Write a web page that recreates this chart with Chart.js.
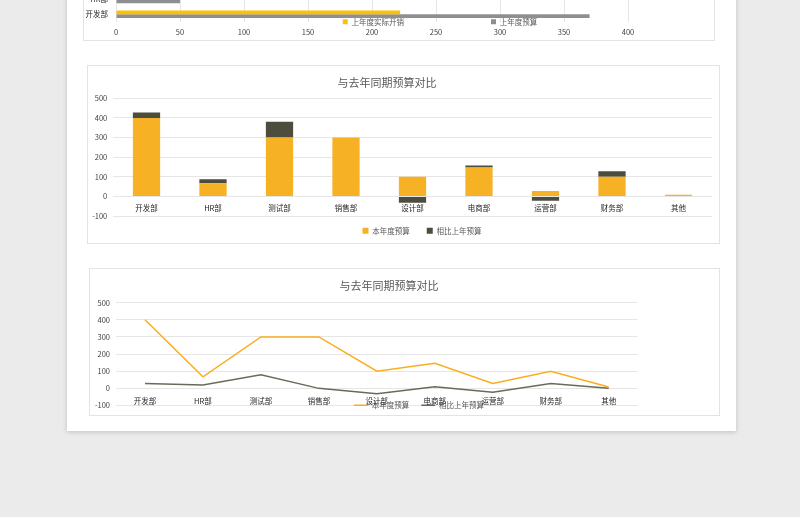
<!DOCTYPE html>
<html>
<head>
<meta charset="utf-8">
<script src="https://cdn.jsdelivr.net/npm/chart.js@4/dist/chart.umd.min.js"></script>
<style>
  html, body { margin:0; padding:0; width:800px; height:517px; overflow:hidden; background:#ebebeb; }
  .page { position:absolute; left:67px; top:-10px; width:669px; height:441px; background:#fff; box-shadow:0 1px 5px rgba(0,0,0,0.18); }
  .box { position:absolute; border:1px solid #e3e3e3; box-sizing:border-box; background:#fff; }
  canvas { position:absolute; }
  .title { position:absolute; transform:translate(-50%,-50%); font-family:"Noto Sans CJK SC","Noto Sans",sans-serif; font-size:11px; color:#595959; white-space:nowrap; }
</style>
</head>
<body>
<div class="page"></div>
<div class="box" style="left:83px; top:-20px; width:632px; height:61px;"></div>
<div class="box" style="left:87px; top:65px; width:633px; height:179px;"></div>
<div class="box" style="left:89px; top:268px; width:631px; height:148px;"></div>
<canvas id="c1" width="631" height="70" style="left:83px; top:-30px;"></canvas>
<canvas id="c2" width="631" height="178" style="left:88px; top:65px;"></canvas>
<canvas id="c3" width="629" height="147" style="left:90px; top:269px;"></canvas>
<div class="title" style="left:387px; top:82px;">与去年同期预算对比</div>
<div class="title" style="left:389px; top:285px;">与去年同期预算对比</div>
<script>
// ---- data ----
const topCategories = ['HR部', '开发部'];
const lastYearActual = [82, 222];
const lastYearBudget = [50, 370];
const topTicks = [0, 50, 100, 150, 200, 250, 300, 350, 400];

const categories = ['开发部', 'HR部', '测试部', '销售部', '设计部', '电商部', '运营部', '财务部', '其他'];
const budgetThisYear = [400, 67, 300, 300, 100, 147, 28, 100, 8];
const changeVsLastYear = [28, 20, 80, 0, -32, 10, -22, 28, 0];
const valueTicks = [-100, 0, 100, 200, 300, 400, 500];

// ---- styling ----
Chart.defaults.font.family = '"Noto Sans CJK SC","Noto Sans",sans-serif';
Chart.defaults.font.size = 7.5;
Chart.defaults.color = '#404040';

const legendPlace = {
  id: 'legendPlace',
  afterLayout(chart, args, opts) {
    const lg = chart.legend;
    if (!lg || opts.cx == null) return;
    const pad = lg.options.labels.padding;
    const fs = (lg.options.labels.font && lg.options.labels.font.size) || Chart.defaults.font.size;
    const w = lg.right - lg.left;
    lg.left = opts.cx - w / 2; lg.right = lg.left + w;
    lg.top = opts.cy - pad - fs * 0.6;
    lg.bottom = lg.top + pad * 2 + 30;
    lg.height = lg.bottom - lg.top;
  }
};

function fixedTicks(list) {
  return function(scale) { scale.ticks = list.map(v => ({ value: v })); };
}

// ---- top (cropped) horizontal bar chart ----
new Chart(document.getElementById('c1'), {
  type: 'bar',
  data: {
    labels: topCategories,
    datasets: [
      { label: '上年度实际开销', data: lastYearActual, backgroundColor: '#FFC000', categoryPercentage: 0.5, barPercentage: 1 },
      { label: '上年度预算', data: lastYearBudget, backgroundColor: '#8F8F8F', categoryPercentage: 0.5, barPercentage: 1 }
    ]
  },
  options: {
    indexAxis: 'y', responsive: false, animation: false, devicePixelRatio: 1,
    layout: { padding: { left: 0, right: 86, top: 22.2, bottom: 0 } },
    scales: {
      x: { min: 0, max: 400, afterBuildTicks: fixedTicks(topTicks), grid: { color: '#e6e6e6', drawTicks: false }, border: { display: false },
           ticks: { padding: 5.9 }, afterFit(s) { s.height = 17.4; } },
      y: { grid: { display: false, drawTicks: false }, border: { display: false }, ticks: { padding: 8, color: '#262626' }, afterFit(s) { s.width = 33; } }
    },
    plugins: {
      legend: { position: 'bottom', maxHeight: 1, labels: { boxWidth: 5, boxHeight: 5, padding: 87, color: '#595959' } },
      legendPlace: { cx: 357, cy: 52.5 },
      tooltip: { enabled: false }
    }
  },
  plugins: [legendPlace]
});

// ---- middle stacked bar chart ----
new Chart(document.getElementById('c2'), {
  type: 'bar',
  data: {
    labels: categories,
    datasets: [
      { label: '本年度预算', data: budgetThisYear, backgroundColor: '#F7B125', stack: 's', barPercentage: 0.41, categoryPercentage: 1 },
      { label: '相比上年预算', data: changeVsLastYear, backgroundColor: '#4D4D3D', stack: 's', barPercentage: 0.41, categoryPercentage: 1 }
    ]
  },
  options: {
    responsive: false, animation: false, devicePixelRatio: 1,
    layout: { padding: { left: 0, right: 7.25, top: 33.3, bottom: 26 } },
    scales: {
      x: { stacked: true, position: { y: 0 }, grid: { display: false, drawTicks: false }, border: { display: false }, ticks: { padding: 7.5, color: '#262626' } },
      y: { stacked: true, min: -100, max: 500, afterBuildTicks: fixedTicks(valueTicks), grid: { color: '#e6e6e6', drawTicks: false }, border: { display: false },
           ticks: { padding: 6 }, afterFit(s) { s.width = 25.25; } }
    },
    plugins: {
      legend: { position: 'bottom', maxHeight: 1, labels: { boxWidth: 6, boxHeight: 6, padding: 17, color: '#595959' } },
      legendPlace: { cx: 334, cy: 166.5 },
      tooltip: { enabled: false }
    }
  },
  plugins: [legendPlace]
});

// ---- bottom line chart ----
new Chart(document.getElementById('c3'), {
  type: 'line',
  data: {
    labels: categories,
    datasets: [
      { label: '本年度预算', data: budgetThisYear, borderColor: '#FAAE1E', backgroundColor: '#FAAE1E', borderWidth: 1.5, pointRadius: 0, tension: 0 },
      { label: '相比上年预算', data: changeVsLastYear, borderColor: '#6A6A5A', backgroundColor: '#6A6A5A', borderWidth: 1.5, pointRadius: 0, tension: 0 }
    ]
  },
  options: {
    responsive: false, animation: false, devicePixelRatio: 1,
    layout: { padding: { left: 0, right: 81.3, top: 33.7, bottom: 7.3 } },
    scales: {
      x: { offset: true, position: { y: 0 }, grid: { display: false, drawTicks: false, offset: true }, border: { display: false }, ticks: { padding: 8.5, color: '#262626' } },
      y: { min: -100, max: 500, afterBuildTicks: fixedTicks(valueTicks), grid: { color: '#e6e6e6', drawTicks: false }, border: { display: false },
           ticks: { padding: 6 }, afterFit(s) { s.width = 26; } }
    },
    plugins: {
      legend: { position: 'bottom', maxHeight: 1, labels: { usePointStyle: true, pointStyle: 'line', pointStyleWidth: 14, boxHeight: 6, padding: 12, color: '#595959' } },
      legendPlace: { cx: 329, cy: 137 },
      tooltip: { enabled: false }
    }
  },
  plugins: [legendPlace]
});
</script>
</body>
</html>
